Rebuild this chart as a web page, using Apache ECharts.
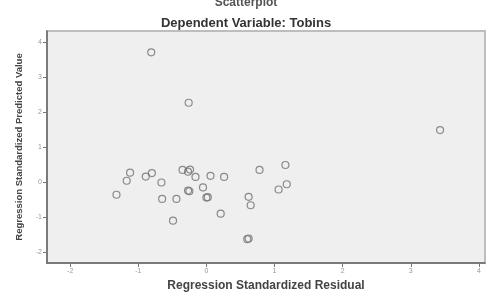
<!DOCTYPE html>
<html>
<head>
<meta charset="utf-8">
<script src="https://cdn.jsdelivr.net/npm/echarts@6/dist/echarts.min.js"></script>
<style>
  html, body { margin: 0; padding: 0; background: #fff; }
  #chart { width: 492px; height: 293px; }
</style>
</head>
<body>
<div id="chart"></div>
<script>
// residuals (x) and predicted values (y)
var residual = [-0.81, -0.26, 3.43, 0.78, 1.16, 1.18, 1.06, 0.62, 0.65, 0.60, 0.62,
  -1.12, -1.17, -1.32, -0.89, -0.80, -0.66, -0.65, -0.44, -0.49, -0.35, -0.27, -0.24,
  -0.16, -0.27, -0.25, -0.05, 0.06, 0.26, 0.00, 0.02, 0.21];
var predicted = [3.70, 2.26, 1.48, 0.34, 0.48, -0.07, -0.22, -0.43, -0.67, -1.64, -1.62,
  0.26, 0.03, -0.37, 0.15, 0.25, -0.02, -0.49, -0.49, -1.11, 0.34, 0.29, 0.35,
  0.14, -0.25, -0.27, -0.16, 0.17, 0.14, -0.45, -0.44, -0.91];
var xTicks = [-2, -1, 0, 1, 2, 3, 4];
var yTicks = [-2, -1, 0, 1, 2, 3, 4];

var points = residual.map(function (r, i) { return [r, predicted[i]]; });

var myChart = echarts.init(document.getElementById('chart'));
var option = {
  animation: false,
  backgroundColor: '#fff',
  title: [
    { text: 'Scatterplot', left: 'center', top: -8,
      textStyle: { fontFamily: 'Liberation Sans', fontSize: 12, fontWeight: 'bold', color: '#555' } },
    { text: 'Dependent Variable: Tobins', left: 'center', top: 12,
      textStyle: { fontFamily: 'Liberation Sans', fontSize: 13, fontWeight: 'bold', color: '#333' } }
  ],
  grid: {
    left: 47, right: 7, top: 31, bottom: 30,
    outerBoundsMode: 'none', containLabel: false,
    show: true, backgroundColor: '#efefef', borderColor: '#bdbdbd', borderWidth: 2
  },
  xAxis: {
    type: 'value', min: -2.34, max: 4.09,
    name: 'Regression Standardized Residual', nameLocation: 'middle', nameGap: 15,
    nameTextStyle: { fontFamily: 'Liberation Sans', fontSize: 12, fontWeight: 'bold', color: '#444' },
    axisLine: { show: true, onZero: false, lineStyle: { color: '#666', width: 1.5 } },
    axisTick: { show: true, customValues: xTicks, length: 4, lineStyle: { color: '#777' } },
    axisLabel: { customValues: xTicks, fontSize: 7, color: '#999', margin: 5 },
    splitLine: { show: false }
  },
  yAxis: {
    type: 'value', min: -2.32, max: 4.31,
    name: 'Regression Standardized Predicted Value', nameLocation: 'middle', nameGap: 23,
    nameTextStyle: { fontFamily: 'Liberation Sans', fontSize: 9.5, fontWeight: 'bold', color: '#444' },
    axisLine: { show: true, onZero: false, lineStyle: { color: '#666', width: 1.5 } },
    axisTick: { show: true, customValues: yTicks, length: 4, lineStyle: { color: '#777' } },
    axisLabel: { customValues: yTicks, fontSize: 7, color: '#999', margin: 5 },
    splitLine: { show: false }
  },
  series: [{
    type: 'scatter',
    data: points,
    symbol: 'circle',
    symbolSize: 7,
    itemStyle: { color: 'rgba(0,0,0,0)', borderColor: '#707070', borderWidth: 1.2 }
  }]
};
myChart.setOption(option);
</script>
</body>
</html>
